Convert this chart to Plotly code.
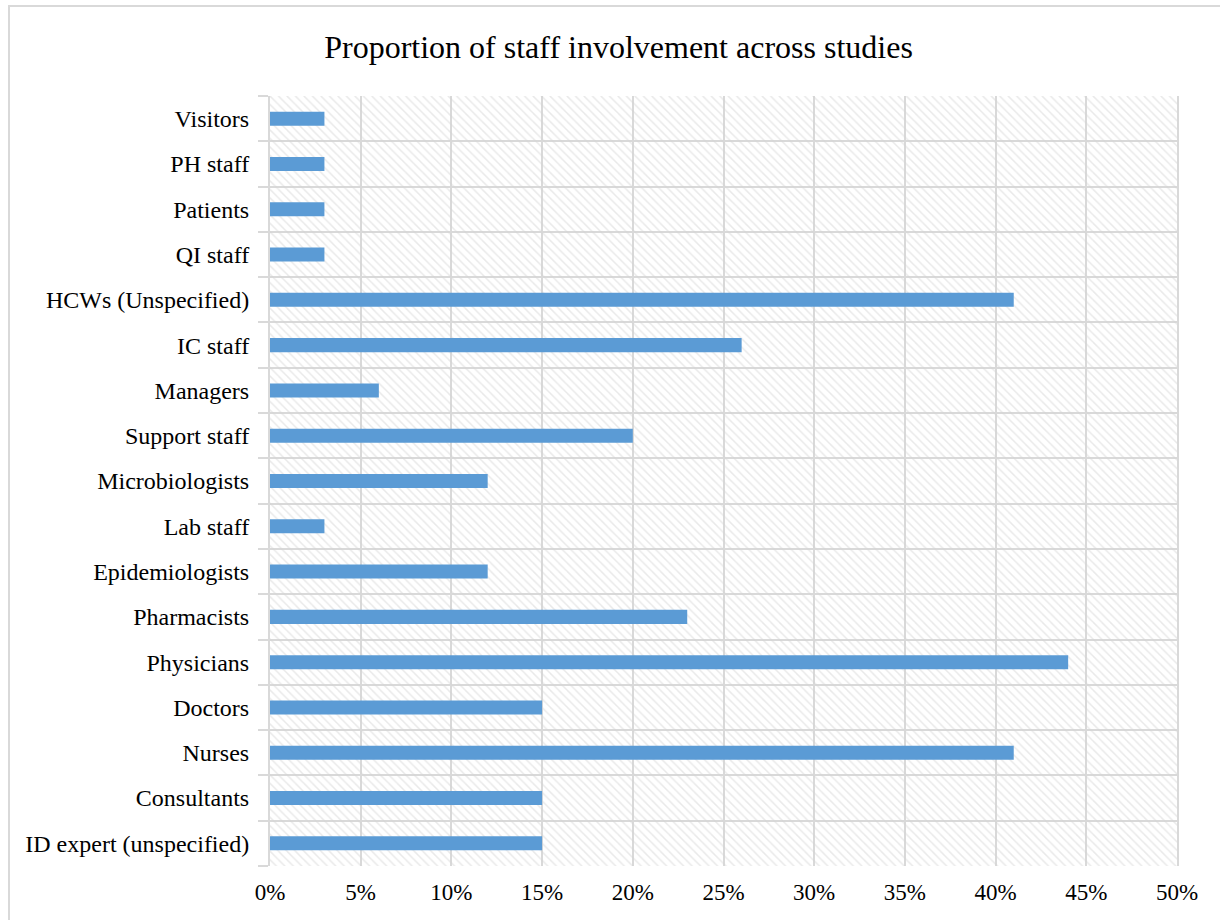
import plotly.graph_objects as go

categories = [
    "ID expert (unspecified)", "Consultants", "Nurses", "Doctors", "Physicians",
    "Pharmacists", "Epidemiologists", "Lab staff", "Microbiologists", "Support staff",
    "Managers", "IC staff", "HCWs (Unspecified)", "QI staff", "Patients", "PH staff", "Visitors",
]
values = [15, 15, 41, 15, 44, 23, 12, 3, 12, 20, 6, 26, 41, 3, 3, 3, 3]
x_max = 50
x_ticks = [0, 5, 10, 15, 20, 25, 30, 35, 40, 45, 50]
x_tick_labels = [f"{t}%" for t in x_ticks]

W, H = 1220, 920
L, R, T, B = 270, 1177, 96, 866

fig = go.Figure()
# hatched plot background
fig.add_trace(go.Bar(
    y=categories, x=[x_max] * len(categories), orientation="h", width=1,
    marker=dict(color="rgba(0,0,0,0)", line=dict(width=0),
                pattern=dict(shape="\\", fgcolor="#d4d4d4", bgcolor="rgba(0,0,0,0)",
                             size=6, solidity=0.25)),
    hoverinfo="skip", showlegend=False,
))
fig.add_trace(go.Bar(
    y=categories, x=values, orientation="h", width=0.31,
    marker=dict(color="#5b9bd5", line=dict(width=0)),
    showlegend=False,
))

fig.update_layout(
    width=W, height=H,
    margin=dict(l=L, r=W - R, t=T, b=H - B),
    paper_bgcolor="white", plot_bgcolor="white",
    barmode="overlay",
    font=dict(family="Liberation Serif, Times New Roman, serif", size=24, color="#000000"),
    title=dict(text="Proportion of staff involvement across studies",
               x=0.507, xanchor="center", y=1 - 47 / H, yanchor="middle",
               font=dict(size=32, color="#000000")),
    xaxis=dict(range=[0, x_max], tickvals=x_ticks, ticktext=x_tick_labels,
               tickfont=dict(size=23),
               showgrid=True, gridcolor="#d9d9d9", gridwidth=2,
               zeroline=False, showline=False, ticks="", ticklabelstandoff=10,
               fixedrange=True),
    yaxis=dict(type="category", categoryorder="array", categoryarray=categories,
               tickson="boundaries", showgrid=True, gridcolor="#d9d9d9", gridwidth=2,
               ticks="outside", ticklen=10, tickcolor="#d9d9d9", tickwidth=2,
               showline=True, linecolor="#d9d9d9", linewidth=2, mirror=True,
               tickfont=dict(size=24),
               range=[-0.5, len(categories) - 0.5], ticklabelstandoff=14),
    shapes=[dict(type="rect", xref="paper", yref="paper",
                 x0=(9 - L) / (R - L), x1=(1225 - L) / (R - L),
                 y0=(B - 925) / (B - T), y1=1 + (T - 6) / (B - T),
                 line=dict(color="#d9d9d9", width=2), fillcolor="rgba(0,0,0,0)",
                 layer="below")],
)

fig.write_html("out.html")
